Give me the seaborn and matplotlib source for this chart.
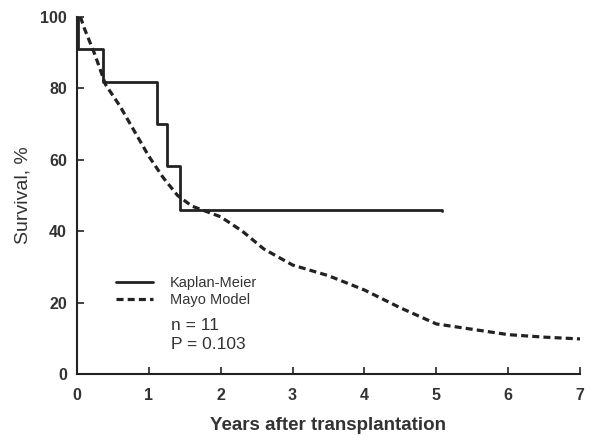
import pandas as pd
import matplotlib
matplotlib.use("Agg")
import matplotlib.pyplot as plt
import seaborn as sns

# Kaplan-Meier steps (years, survival %)
km_years = [0.0, 0.02, 0.37, 1.11, 1.25, 1.43, 5.08]
km_surv = [100.0, 90.9, 81.8, 70.0, 58.3, 46.0, 45.6]

# Mayo model predicted survival
mayo_years = [0.05, 0.1, 0.25, 0.4, 0.6, 0.8, 1.0, 1.2, 1.4, 1.6, 1.8, 2.0,
              2.3, 2.6, 3.0, 3.5, 4.0, 4.5, 5.0, 5.5, 6.0, 6.5, 7.0]
mayo_surv = [100.0, 97.0, 89.5, 81.0, 75.0, 68.0, 61.0, 55.0, 50.0, 47.0, 45.5, 44.0,
             40.0, 35.0, 30.5, 27.5, 23.5, 18.5, 14.0, 12.5, 11.0, 10.3, 9.8]

x_ticks = [0, 1, 2, 3, 4, 5, 6, 7]
y_ticks = [0, 20, 40, 60, 80, 100]

sns.set_style("ticks")
plt.rcParams['font.family'] = ['Liberation Sans', 'DejaVu Sans']

km = pd.DataFrame({'Years': km_years, 'Survival': km_surv})
mayo = pd.DataFrame({'Years': mayo_years, 'Survival': mayo_surv})

fig = plt.figure(figsize=(6, 4.42), dpi=100)
ax = fig.add_axes([0.128, 0.154, 0.839, 0.808])

ink = '#222222'
sns.lineplot(data=km, x='Years', y='Survival', ax=ax, color=ink, linewidth=2.0,
             drawstyle='steps-post', label='Kaplan-Meier', estimator=None, sort=False)
sns.lineplot(data=mayo, x='Years', y='Survival', ax=ax, color=ink, linewidth=2.3,
             linestyle=(0, (2.2, 1.3)), label='Mayo Model', estimator=None, sort=False)

ax.set_xlim(0, 7)
ax.set_ylim(0, 100)
ax.set_xticks(x_ticks)
ax.set_yticks(y_ticks)
ax.tick_params(direction='in', length=5, width=1.2, colors=ink, labelsize=11.5)
ax.tick_params(axis='x', pad=10)
ax.tick_params(axis='y', pad=7)
for lab in ax.get_xticklabels() + ax.get_yticklabels():
    lab.set_fontweight('bold')
    lab.set_color('#333333')
for s in ['top', 'right']:
    ax.spines[s].set_visible(False)
for s in ['left', 'bottom']:
    ax.spines[s].set_linewidth(1.5)
    ax.spines[s].set_color(ink)

ax.set_xlabel('Years after transplantation', fontsize=13.5, fontweight='bold', color='#333333', labelpad=10)
ax.set_ylabel('Survival, %', fontsize=14, color='#333333', labelpad=6)

leg = ax.legend(loc='upper left', bbox_to_anchor=(0.052, 0.31), frameon=False,
                handlelength=2.5, fontsize=10.5, labelspacing=0.2, handletextpad=1.2)
for t in leg.get_texts():
    t.set_color('#333333')

ax.text(0.187, 0.123, 'n = 11', transform=ax.transAxes, fontsize=12.5, color='#333333')
ax.text(0.187, 0.07, 'P = 0.103', transform=ax.transAxes, fontsize=12.5, color='#333333')

fig.savefig('out.png', dpi=100)
